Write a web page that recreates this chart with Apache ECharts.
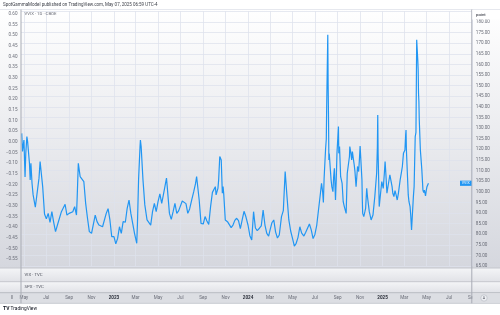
<!DOCTYPE html>
<html>
<head>
<meta charset="utf-8">
<script src="https://cdn.jsdelivr.net/npm/echarts@6/dist/echarts.min.js"></script>
<style>
html,body{margin:0;padding:0;background:#ffffff;}
#chart{width:500px;height:315px;}
</style>
</head>
<body>
<div id="chart"></div>
<script>
// VVIX daily closes
const dates = [
  '2022-04-25','2022-04-27','2022-05-01','2022-05-04','2022-05-06','2022-05-09','2022-05-11','2022-05-16','2022-05-18','2022-05-20',
  '2022-05-23','2022-05-26','2022-06-01','2022-06-06','2022-06-11','2022-06-14','2022-06-16','2022-06-21','2022-06-26','2022-07-01',
  '2022-07-06','2022-07-11','2022-07-16','2022-07-21','2022-07-26','2022-08-01','2022-08-06','2022-08-11','2022-08-16','2022-08-21',
  '2022-08-26','2022-09-01','2022-09-06','2022-09-11','2022-09-16','2022-09-21','2022-09-23','2022-09-26','2022-10-01','2022-10-06',
  '2022-10-11','2022-10-16','2022-10-21','2022-10-26','2022-11-01','2022-11-06','2022-11-11','2022-11-16','2022-11-21','2022-11-26',
  '2022-12-01','2022-12-06','2022-12-11','2022-12-16','2022-12-21','2022-12-26','2023-01-01','2023-01-06','2023-01-11','2023-01-16',
  '2023-01-21','2023-01-26','2023-02-01','2023-02-06','2023-02-11','2023-02-16','2023-02-21','2023-02-26','2023-03-01','2023-03-04',
  '2023-03-06','2023-03-09','2023-03-13','2023-03-14','2023-03-16','2023-03-21','2023-03-26','2023-04-01','2023-04-06','2023-04-11',
  '2023-04-16','2023-04-21','2023-04-26','2023-05-01','2023-05-06','2023-05-11','2023-05-16','2023-05-21','2023-05-24','2023-05-26',
  '2023-06-01','2023-06-06','2023-06-11','2023-06-16','2023-06-21','2023-06-26','2023-07-01','2023-07-06','2023-07-11','2023-07-16',
  '2023-07-21','2023-07-26','2023-08-01','2023-08-06','2023-08-11','2023-08-14','2023-08-16','2023-08-21','2023-08-26','2023-09-01',
  '2023-09-06','2023-09-11','2023-09-16','2023-09-21','2023-09-26','2023-10-01','2023-10-04','2023-10-06','2023-10-09','2023-10-11',
  '2023-10-13','2023-10-16','2023-10-18','2023-10-20','2023-10-23','2023-10-25','2023-10-27','2023-10-31','2023-11-01','2023-11-06',
  '2023-11-11','2023-11-16','2023-11-21','2023-11-26','2023-12-01','2023-12-06','2023-12-11','2023-12-16','2023-12-21','2023-12-26',
  '2024-01-01','2024-01-06','2024-01-11','2024-01-16','2024-01-21','2024-01-26','2024-02-01','2024-02-06','2024-02-11','2024-02-16',
  '2024-02-21','2024-02-26','2024-03-01','2024-03-06','2024-03-11','2024-03-16','2024-03-21','2024-03-26','2024-04-01','2024-04-06',
  '2024-04-11','2024-04-16','2024-04-21','2024-04-26','2024-05-01','2024-05-06','2024-05-11','2024-05-16','2024-05-21','2024-05-26',
  '2024-06-01','2024-06-06','2024-06-11','2024-06-16','2024-06-21','2024-06-26','2024-07-01','2024-07-06','2024-07-11','2024-07-16',
  '2024-07-19','2024-07-22','2024-07-24','2024-07-26','2024-07-30','2024-08-01','2024-08-02','2024-08-05','2024-08-06','2024-08-07',
  '2024-08-08','2024-08-09','2024-08-12','2024-08-14','2024-08-16','2024-08-19','2024-08-21','2024-08-23','2024-08-26','2024-08-28',
  '2024-08-30','2024-09-03','2024-09-04','2024-09-06','2024-09-09','2024-09-11','2024-09-13','2024-09-16','2024-09-19','2024-09-24',
  '2024-09-26','2024-09-27','2024-09-30','2024-10-03','2024-10-04','2024-10-07','2024-10-09','2024-10-11','2024-10-14','2024-10-16',
  '2024-10-18','2024-10-21','2024-10-23','2024-10-25','2024-10-28','2024-10-30','2024-11-01','2024-11-04','2024-11-06','2024-11-07',
  '2024-11-08','2024-11-11','2024-11-14','2024-11-16','2024-11-19','2024-11-21','2024-11-26','2024-12-01','2024-12-06','2024-12-11',
  '2024-12-16','2024-12-18','2024-12-19','2024-12-20','2024-12-23','2024-12-26','2024-12-30','2025-01-01','2025-01-03','2025-01-06',
  '2025-01-08','2025-01-10','2025-01-13','2025-01-16','2025-01-21','2025-01-24','2025-01-27','2025-01-29','2025-02-01','2025-02-04',
  '2025-02-07','2025-02-10','2025-02-13','2025-02-18','2025-02-21','2025-02-24','2025-02-27','2025-03-03','2025-03-05','2025-03-06',
  '2025-03-07','2025-03-10','2025-03-12','2025-03-14','2025-03-17','2025-03-19','2025-03-21','2025-03-24','2025-03-26','2025-03-28',
  '2025-03-31','2025-04-02','2025-04-03','2025-04-04','2025-04-07','2025-04-08','2025-04-09','2025-04-10','2025-04-11','2025-04-14',
  '2025-04-16','2025-04-18','2025-04-21','2025-04-23','2025-04-25','2025-04-28','2025-04-30','2025-05-02','2025-05-06'
];
const vvix = [
  127.5,119,124.4,107,118,126,123.6,113.4,105.6,113.4,
  104,98.5,92.7,92.2,106.4,114.2,114.2,102.4,89.5,87.2,
  89.8,85.6,90.6,85.6,81.2,84.8,84.8,90.6,89.8,94.1,
  89,89.8,90.6,90.6,93,89,97.7,113.4,107.1,106.4,
  104.8,94.5,87.5,81.2,80.4,79.6,89,85.9,84.3,83.5,
  83.5,84,89.8,92,86.7,78.8,78.8,75.4,78,83.5,
  80.4,85.9,85.6,92.2,96.1,89.8,85.1,80.4,78,75.7,
  85.1,105.6,121.3,124.4,121.3,105.6,93.8,86.7,86.4,84.3,
  90.6,94.5,90.6,95.3,99,94.5,99,98.5,106.4,102.4,
  89.8,87,90.6,94.5,89.8,91,90.3,95.6,95.2,94.4,
  89.8,91.9,96.4,99.9,103.8,107.1,104,96.1,85.1,84.8,
  88.3,86.2,84.6,93,99.7,99.9,102.4,98.5,97.7,101.6,
  105.6,116.6,116.6,115,99.3,102.4,98.5,86.7,85.9,85.9,
  86.7,83.1,84.3,86.5,87.5,86.4,82.6,86.7,90.8,88.3,
  84.2,79.3,77.3,90.6,82.9,81.7,82.8,83.9,91.4,84.3,
  80.4,79.1,82,85.4,86.7,81,78.2,79.6,88.3,91.1,
  109.5,97.7,86.7,81.5,78,74.4,75.7,78.5,83.5,80.5,
  79.1,80.9,81.5,84.8,82,77.9,79.9,84.3,84.6,99.3,
  104,100,94.9,106.4,120,125,140,174,150,135,
  115,118,118.1,105.6,102.4,100,107.1,111.1,96.1,105.6,
  118.1,130.7,118.1,121.3,107.1,105.6,104,95.3,93,89.8,
  102.4,108.7,108,116.6,121.3,118.1,115,118.9,115,112.6,
  109.5,102.4,107.1,111.9,109.5,115,121.6,122.1,105.6,96.1,
  89.8,88.3,90.6,92.2,101.6,97.7,90.6,86.7,89,97.7,
  108.7,121.3,136.2,118.1,93,92.2,104.8,103.2,101.6,108.7,
  114.2,108.7,99.3,98.5,108,107.1,102.4,99.3,97.7,100.5,
  98.5,96.1,99,105.6,108.7,111.9,118.1,119.7,126.8,129.1,
  119.7,107.1,98.5,95.3,93,88.3,82,91.4,97.7,102.4,
  126,128,149,171.6,162,157.5,146.4,142.5,133.9,119.7,
  115,110.3,100.8,99.6,100.8,98,100.5,102.4,104
];

// time axis labels (every second month)
const xTicks = [
  '2022-05-01','2022-07-01','2022-09-01','2022-11-01','2023-01-01','2023-03-01','2023-05-01','2023-07-01','2023-09-01','2023-11-01',
  '2024-01-01','2024-03-01','2024-05-01','2024-07-01','2024-09-01','2024-11-01','2025-01-01','2025-03-01','2025-05-01','2025-07-01','2025-09-01'
];
const monthNames = ['Jan','Feb','Mar','Apr','May','Jun','Jul','Aug','Sep','Oct','Nov','Dec'];
const xMin = '2022-04-23';
const xMax = '2025-09-01';
// right price scale (point) and empty left scale
const rightMin = 65, rightMax = 185, rightStep = 5;
const leftMin = -0.55, leftMax = 0.60, leftStep = 0.05;

const toTime = s => new Date(s + 'T00:00:00').getTime();
const FONT = 'Roboto, "Noto Sans", sans-serif';
const lblColor = '#6a6d78';

function vGrad(c1, c2) {
  return {type: 'linear', x: 0, y: 0, x2: 0, y2: 1, colorStops: [{offset: 0, color: c1}, {offset: 1, color: c2}]};
}

let chart = echarts.init(document.getElementById('chart'), null, {renderer: 'canvas'});

let decor = [
  // pane backgrounds
  {id: 'bgMain', type: 'rect', z: -10, shape: {x: 0, y: 9.5, width: 500, height: 258.5}, style: {fill: vGrad('#ffffff', '#d5d7de')}},
  {id: 'bgVix', type: 'rect', z: -10, shape: {x: 0, y: 268, width: 500, height: 13.7}, style: {fill: vGrad('#f4f5f7', '#e1e2e7')}},
  {id: 'bgSpx', type: 'rect', z: -10, shape: {x: 0, y: 281.7, width: 500, height: 11}, style: {fill: vGrad('#f4f5f7', '#e1e2e7')}},
  {id: 'bgTime', type: 'rect', z: -10, shape: {x: 0, y: 292.7, width: 500, height: 10.6}, style: {fill: '#dcdee3'}},
  // separators
  {id: 'sepTop', type: 'line', z: -5, shape: {x1: 0, y1: 9.5, x2: 500, y2: 9.5}, style: {stroke: '#e6e8ee', lineWidth: 1}},
  {id: 'sep1', type: 'line', z: -5, shape: {x1: 0, y1: 268, x2: 500, y2: 268}, style: {stroke: '#c4c6cd', lineWidth: 1}},
  {id: 'sep2', type: 'line', z: -5, shape: {x1: 0, y1: 281.7, x2: 500, y2: 281.7}, style: {stroke: '#c4c6cd', lineWidth: 1}},
  {id: 'sep3', type: 'line', z: -5, shape: {x1: 0, y1: 292.7, x2: 500, y2: 292.7}, style: {stroke: '#b8bac2', lineWidth: 1}},
  {id: 'sep4', type: 'line', z: -5, shape: {x1: 0, y1: 303.3, x2: 500, y2: 303.3}, style: {stroke: '#c9cbd1', lineWidth: 1}},
  {id: 'vLeft', type: 'line', z: 5, shape: {x1: 21, y1: 9.5, x2: 21, y2: 303.3}, style: {stroke: '#a9acb5', lineWidth: 1}},
  {id: 'vRight', type: 'line', z: 5, shape: {x1: 471.8, y1: 9.5, x2: 471.8, y2: 303.3}, style: {stroke: '#a9acb5', lineWidth: 1}},
  // covers the edge of the time labels past the right scale
  {id: 'coverTime', type: 'rect', z: 4, shape: {x: 472.3, y: 293.2, width: 27.7, height: 9.6}, style: {fill: '#dcdee3'}},
  // right scale header
  {id: 'pointBox', type: 'rect', z: 6, shape: {x: 472.3, y: 10, width: 27.7, height: 9.5}, style: {fill: '#ffffff'}},
  {id: 'pointTxt', type: 'text', z: 7, x: 476, y: 14.8, style: {text: 'point', fill: '#131722', font: '4.3px ' + FONT, textVerticalAlign: 'middle'}},
  // texts
  {id: 'title', type: 'text', z: 7, x: 3, y: 5, style: {text: 'SpotGammaModel published on TradingView.com, May 07, 2025 06:59 UTC-4', fill: '#3c3f48', font: '4.5px ' + FONT, textVerticalAlign: 'middle'}},
  {id: 'legend', type: 'text', z: 7, x: 24.5, y: 14.3, style: {text: 'VVIX · 1D · CBOE', fill: '#6a6d78', font: '4.3px ' + FONT, textVerticalAlign: 'middle'}},
  {id: 'vixTxt', type: 'text', z: 7, x: 24.5, y: 275.3, style: {text: 'VIX · TVC', fill: '#50535e', font: '4.3px ' + FONT, textVerticalAlign: 'middle'}},
  {id: 'spxTxt', type: 'text', z: 7, x: 24.5, y: 287.3, style: {text: 'SPX · TVC', fill: '#50535e', font: '4.3px ' + FONT, textVerticalAlign: 'middle'}},
  {id: 'gotoIcon', type: 'text', z: 7, x: 12, y: 298.2, style: {text: 'I', fill: '#50535e', font: 'bold 5px ' + FONT, textAlign: 'center', textVerticalAlign: 'middle'}},
  {id: 'autoCircle', type: 'circle', z: 7, shape: {cx: 484, cy: 298, r: 3.2}, style: {fill: '#eceef2', stroke: '#b2b5be', lineWidth: 0.6}},
  {id: 'autoTxt', type: 'text', z: 8, x: 484, y: 298.2, style: {text: 'A', fill: '#50535e', font: '3.6px ' + FONT, textAlign: 'center', textVerticalAlign: 'middle'}},
  {id: 'logo', type: 'text', z: 7, x: 3, y: 308.5, style: {
    text: '{b|TV} TradingView', fill: '#131722', font: '4.8px ' + FONT, textVerticalAlign: 'middle',
    rich: {b: {fontWeight: 'bold', fontSize: 5, fill: '#131722', fontFamily: FONT}}
  }}
];

let option = {
  animation: false,
  backgroundColor: '#ffffff',
  grid: [
    {left: 21, right: 28.2, top: 11.4, bottom: 49},
    {left: 21, right: 28.2, top: 14, bottom: 55.7}
  ],
  xAxis: [
    {
      // timestamps on a value axis so the two-month labels can be placed exactly
      type: 'value', gridIndex: 0,
      min: toTime(xMin), max: toTime(xMax),
      axisLine: {show: false},
      axisTick: {show: false, customValues: xTicks.map(toTime)},
      splitLine: {show: true, lineStyle: {color: 'rgba(222,226,236,0.75)', width: 1}},
      axisLabel: {
        customValues: xTicks.map(toTime),
        margin: 29.4,
        fontSize: 4.6, fontFamily: FONT, color: lblColor,
        formatter: function (v) {
          let d = new Date(v);
          if (d.getMonth() === 0) return '{y|' + d.getFullYear() + '}';
          return monthNames[d.getMonth()];
        },
        rich: {y: {fontWeight: 'bold', fontSize: 4.6, fontFamily: FONT, color: '#2a2e39'}}
      }
    },
    {type: 'value', gridIndex: 1, min: 0, max: 1, show: false}
  ],
  yAxis: [
    {
      type: 'value', gridIndex: 0, position: 'right',
      min: rightMin, max: rightMax, interval: rightStep,
      axisLine: {show: false}, axisTick: {show: false},
      splitLine: {show: true, lineStyle: {color: 'rgba(222,226,236,0.75)', width: 1}},
      axisLabel: {
        margin: 4, fontSize: 4.6, fontFamily: FONT, color: lblColor,
        formatter: v => v >= rightMax ? '' : v.toFixed(2)
      }
    },
    {
      type: 'value', gridIndex: 1, position: 'left',
      min: leftMin, max: leftMax, interval: leftStep,
      axisLine: {show: false}, axisTick: {show: false}, splitLine: {show: false},
      axisLabel: {
        margin: 3.5, fontSize: 4.6, fontFamily: FONT, color: lblColor,
        formatter: function (v) {
          if (Math.abs(v) < 1e-9) return '0.00';
          return v < 0 ? '\u2212' + Math.abs(v).toFixed(2) : v.toFixed(2);
        }
      }
    }
  ],
  series: [{
    name: 'VVIX',
    type: 'line',
    xAxisIndex: 0, yAxisIndex: 0,
    data: dates.map((d, i) => [toTime(d), vvix[i]]),
    showSymbol: false,
    lineStyle: {color: '#2196f3', width: 1.2},
    itemStyle: {color: '#2196f3'},
    z: 3
  }],
  graphic: {elements: decor}
};
chart.setOption(option);

// name tag next to the price scale at the last value
let lastY = chart.convertToPixel({yAxisIndex: 0}, vvix[vvix.length - 1]);
chart.setOption({graphic: {elements: [
  {id: 'tagBox', type: 'rect', z: 8, shape: {x: 460, y: lastY - 2.6, width: 11.5, height: 5.2}, style: {fill: '#2196f3'}},
  {id: 'tagTxt', type: 'text', z: 9, x: 465.75, y: lastY + 0.1, style: {text: 'VVIX', fill: '#ffffff', font: '3.6px ' + FONT, textAlign: 'center', textVerticalAlign: 'middle'}}
]}});
</script>
</body>
</html>
